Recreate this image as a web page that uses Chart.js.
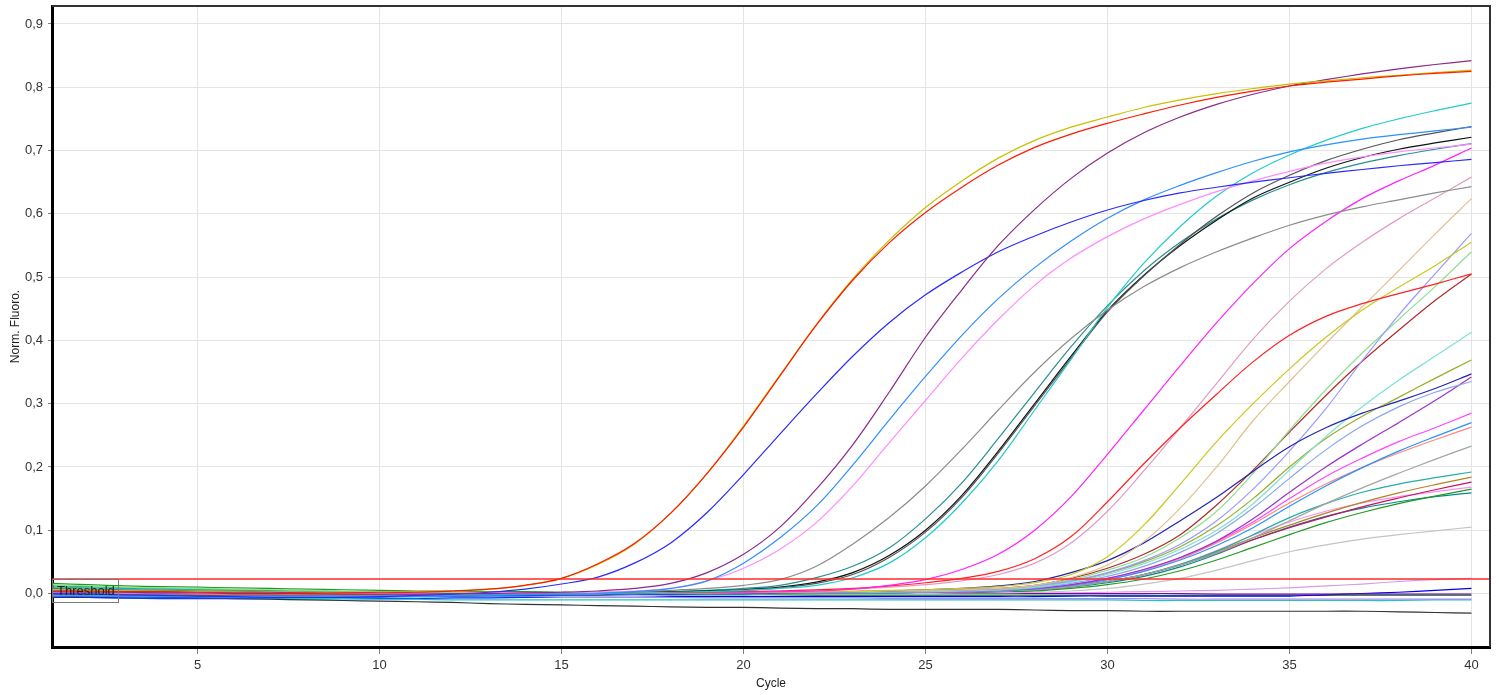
<!DOCTYPE html>
<html><head><meta charset="utf-8">
<script src="https://cdn.jsdelivr.net/npm/chart.js@4.4.0/dist/chart.umd.min.js"></script>
<style>html,body{margin:0;padding:0;background:#fff;overflow:hidden}#wrap{width:1499px;height:695px;position:relative}</style>
</head><body><div id="wrap"><canvas id="c" width="1499" height="695"></canvas></div>
<script>
const cycles=[1,2,3,4,5,6,7,8,9,10,11,12,13,14,15,16,17,18,19,20,21,22,23,24,25,26,27,28,29,30,31,32,33,34,35,36,37,38,39,40];
const xTickValues=[5,10,15,20,25,30,35,40];
const yTickValues=[0,0.1,0.2,0.3,0.4,0.5,0.6,0.7,0.8,0.9];
const thresholdValue=0.023;
const xTitle="Cycle";
const yTitle="Norm. Fluoro.";
const thresholdText="Threshold";

const yellowA=[0.006,0.005,0.004,0.004,0.003,0.003,0.002,0.002,0.002,0.002,0.003,0.004,0.007,0.013,0.024,0.046,0.078,0.127,0.19,0.265,0.345,0.425,0.497,0.558,0.61,0.652,0.688,0.716,0.737,0.753,0.768,0.78,0.79,0.798,0.805,0.81,0.815,0.819,0.823,0.827];
const redA=[0.004,0.004,0.003,0.003,0.002,0.002,0.002,0.001,0.001,0.002,0.002,0.004,0.007,0.013,0.024,0.047,0.079,0.127,0.19,0.263,0.344,0.424,0.495,0.554,0.602,0.642,0.677,0.705,0.726,0.743,0.758,0.772,0.784,0.794,0.802,0.808,0.813,0.818,0.822,0.825];
const blueA=[0.0,-0.001,-0.002,-0.003,-0.004,-0.005,-0.006,-0.006,-0.006,-0.005,-0.003,-0.001,0.002,0.007,0.015,0.026,0.048,0.08,0.128,0.188,0.252,0.315,0.375,0.428,0.472,0.508,0.54,0.565,0.587,0.606,0.621,0.633,0.642,0.65,0.657,0.664,0.67,0.676,0.681,0.686];
const purpleA=[0.003,0.002,0.002,0.001,0.001,0.0,0.0,0.0,-0.001,-0.001,-0.001,0.0,0.0,0.001,0.002,0.004,0.008,0.016,0.033,0.062,0.105,0.165,0.235,0.318,0.405,0.48,0.55,0.607,0.656,0.696,0.728,0.753,0.773,0.789,0.802,0.812,0.821,0.829,0.836,0.842];
const dodgerA=[-0.004,-0.004,-0.005,-0.005,-0.005,-0.006,-0.006,-0.006,-0.006,-0.005,-0.005,-0.004,-0.003,-0.002,-0.001,0.0,0.003,0.008,0.02,0.048,0.088,0.138,0.203,0.274,0.343,0.408,0.466,0.515,0.557,0.593,0.622,0.645,0.665,0.683,0.698,0.709,0.718,0.725,0.731,0.737];
const violetA=[0.002,0.002,0.001,0.001,0.0,0.0,0.0,0.0,0.0,0.0,0.0,0.0,0.001,0.001,0.002,0.002,0.004,0.008,0.02,0.04,0.07,0.112,0.17,0.238,0.305,0.372,0.433,0.487,0.53,0.564,0.592,0.615,0.635,0.652,0.667,0.68,0.69,0.698,0.704,0.71];
const grayA=[0.001,0.0,0.0,-0.001,-0.001,-0.002,-0.002,-0.002,-0.002,-0.002,-0.001,-0.001,0.0,0.0,0.001,0.002,0.003,0.005,0.008,0.013,0.022,0.043,0.078,0.12,0.17,0.228,0.29,0.35,0.403,0.448,0.485,0.515,0.54,0.562,0.582,0.598,0.611,0.622,0.633,0.643];
const tealA=[0.008,0.007,0.006,0.005,0.004,0.003,0.002,0.002,0.001,0.001,0.0,0.0,0.0,0.0,0.001,0.001,0.002,0.003,0.005,0.008,0.013,0.025,0.043,0.072,0.118,0.175,0.245,0.318,0.39,0.455,0.51,0.555,0.592,0.622,0.646,0.665,0.68,0.692,0.702,0.711];
const blackA=[0.002,0.002,0.001,0.001,0.0,0.0,-0.001,-0.001,-0.001,-0.001,-0.001,0.0,0.0,0.0,0.001,0.001,0.002,0.003,0.004,0.006,0.01,0.018,0.033,0.06,0.1,0.155,0.225,0.3,0.375,0.447,0.503,0.55,0.59,0.625,0.65,0.672,0.689,0.702,0.712,0.721];
const dgrayA=[0.0,0.0,-0.001,-0.001,-0.002,-0.002,-0.002,-0.002,-0.002,-0.002,-0.001,-0.001,0.0,0.0,0.0,0.001,0.001,0.002,0.003,0.005,0.009,0.016,0.03,0.057,0.097,0.152,0.222,0.297,0.372,0.445,0.502,0.552,0.596,0.633,0.661,0.684,0.702,0.717,0.728,0.738];
const cyanA=[-0.003,-0.003,-0.004,-0.004,-0.005,-0.005,-0.005,-0.005,-0.004,-0.004,-0.003,-0.002,-0.002,-0.001,0.0,0.0,0.001,0.002,0.003,0.005,0.008,0.013,0.025,0.048,0.088,0.143,0.21,0.29,0.37,0.452,0.522,0.58,0.628,0.665,0.693,0.716,0.735,0.75,0.763,0.775];
const magentaA=[0.001,0.001,0.0,0.0,-0.001,-0.001,-0.001,-0.001,-0.001,-0.001,0.0,0.0,0.0,0.0,0.0,0.001,0.001,0.001,0.002,0.002,0.003,0.004,0.007,0.013,0.022,0.038,0.062,0.1,0.153,0.22,0.29,0.36,0.428,0.49,0.545,0.588,0.624,0.652,0.677,0.704];
const redB=[-0.002,-0.002,-0.003,-0.003,-0.003,-0.003,-0.003,-0.002,-0.002,-0.002,-0.001,-0.001,0.0,0.0,0.0,0.001,0.001,0.002,0.002,0.003,0.004,0.006,0.008,0.012,0.017,0.024,0.035,0.055,0.09,0.145,0.205,0.262,0.315,0.366,0.408,0.438,0.458,0.474,0.489,0.505];
const pinkB=[0.0,0.0,0.0,-0.001,-0.001,-0.001,-0.001,-0.001,-0.001,0.0,0.0,0.0,0.0,0.001,0.001,0.001,0.001,0.002,0.002,0.003,0.004,0.005,0.007,0.01,0.014,0.02,0.03,0.048,0.08,0.13,0.194,0.262,0.332,0.402,0.462,0.513,0.555,0.592,0.625,0.658];
const yellowB=[0.004,0.003,0.003,0.002,0.002,0.001,0.001,0.0,0.0,0.0,0.0,0.0,0.0,0.0,0.0,0.0,0.001,0.001,0.001,0.002,0.002,0.003,0.004,0.005,0.006,0.008,0.011,0.017,0.03,0.058,0.108,0.173,0.24,0.3,0.355,0.405,0.448,0.484,0.518,0.555];
const tanB=[0.002,0.002,0.001,0.001,0.0,0.0,0.0,0.0,-0.001,-0.001,-0.001,-0.001,0.0,0.0,0.0,0.0,0.0,0.001,0.001,0.001,0.002,0.002,0.003,0.004,0.005,0.006,0.008,0.013,0.025,0.045,0.082,0.135,0.2,0.273,0.335,0.395,0.453,0.51,0.568,0.624];
const blueB=[-0.006,-0.006,-0.007,-0.007,-0.007,-0.007,-0.006,-0.006,-0.005,-0.005,-0.004,-0.004,-0.003,-0.003,-0.002,-0.002,-0.001,-0.001,0.0,0.0,0.001,0.002,0.003,0.004,0.006,0.008,0.012,0.019,0.033,0.052,0.08,0.115,0.152,0.193,0.232,0.262,0.285,0.304,0.324,0.347];
const lavenderC=[0.001,0.001,0.0,0.0,0.0,-0.001,-0.001,-0.001,-0.001,-0.001,0.0,0.0,0.0,0.0,0.0,0.0,0.001,0.001,0.001,0.001,0.002,0.002,0.003,0.003,0.004,0.005,0.007,0.012,0.02,0.033,0.052,0.078,0.115,0.165,0.225,0.292,0.368,0.44,0.505,0.569];
const lgreenC=[0.014,0.012,0.01,0.009,0.008,0.007,0.006,0.005,0.004,0.003,0.003,0.002,0.002,0.001,0.001,0.001,0.001,0.001,0.001,0.002,0.002,0.002,0.003,0.003,0.004,0.005,0.007,0.012,0.022,0.037,0.057,0.088,0.13,0.19,0.258,0.322,0.38,0.433,0.485,0.54];
const brickC=[-0.001,-0.001,-0.002,-0.002,-0.002,-0.002,-0.002,-0.002,-0.001,-0.001,-0.001,0.0,0.0,0.0,0.0,0.001,0.001,0.001,0.002,0.002,0.002,0.003,0.003,0.004,0.005,0.006,0.008,0.013,0.024,0.04,0.062,0.093,0.14,0.195,0.255,0.313,0.367,0.416,0.463,0.505];
const aquaC=[0.006,0.005,0.005,0.004,0.004,0.003,0.003,0.002,0.002,0.001,0.001,0.001,0.0,0.0,0.0,0.0,0.0,0.0,0.001,0.001,0.001,0.002,0.002,0.003,0.003,0.004,0.006,0.01,0.018,0.03,0.047,0.07,0.1,0.142,0.195,0.248,0.295,0.337,0.375,0.413];
const oliveC=[0.003,0.003,0.002,0.002,0.001,0.001,0.0,0.0,0.0,0.0,0.0,0.0,0.0,0.0,0.0,0.0,0.001,0.001,0.001,0.001,0.002,0.002,0.002,0.003,0.004,0.005,0.006,0.01,0.019,0.032,0.05,0.074,0.107,0.15,0.2,0.245,0.28,0.31,0.34,0.369];
const lblueC=[-0.003,-0.003,-0.004,-0.004,-0.004,-0.004,-0.004,-0.004,-0.003,-0.003,-0.003,-0.002,-0.002,-0.001,-0.001,0.0,0.0,0.0,0.0,0.001,0.001,0.001,0.002,0.002,0.003,0.004,0.005,0.009,0.016,0.027,0.043,0.065,0.095,0.135,0.182,0.227,0.265,0.295,0.318,0.335];
const orchidC=[0.005,0.004,0.004,0.003,0.003,0.002,0.002,0.001,0.001,0.001,0.0,0.0,0.0,0.0,0.0,0.0,0.0,0.0,0.0,0.001,0.001,0.001,0.002,0.002,0.003,0.003,0.005,0.008,0.014,0.024,0.038,0.057,0.083,0.118,0.16,0.2,0.236,0.27,0.305,0.342];
const magentaC=[0.002,0.002,0.001,0.001,0.001,0.0,0.0,0.0,0.0,0.0,0.0,0.0,0.0,0.0,0.0,0.0,0.0,0.001,0.001,0.001,0.001,0.002,0.002,0.002,0.003,0.004,0.005,0.008,0.014,0.024,0.038,0.057,0.082,0.113,0.15,0.185,0.214,0.24,0.262,0.285];
const dodgerC=[-0.006,-0.006,-0.007,-0.007,-0.007,-0.007,-0.007,-0.006,-0.006,-0.006,-0.005,-0.005,-0.004,-0.004,-0.003,-0.003,-0.002,-0.002,-0.001,-0.001,0.0,0.0,0.001,0.001,0.002,0.003,0.004,0.007,0.013,0.022,0.035,0.053,0.076,0.104,0.138,0.17,0.199,0.225,0.248,0.27];
const salmonC=[0.001,0.001,0.001,0.0,0.0,0.0,0.0,-0.001,-0.001,-0.001,-0.001,0.0,0.0,0.0,0.0,0.0,0.0,0.001,0.001,0.001,0.001,0.002,0.002,0.002,0.003,0.003,0.004,0.007,0.013,0.022,0.036,0.055,0.08,0.11,0.143,0.173,0.199,0.222,0.243,0.263];
const grayC=[0.004,0.004,0.003,0.003,0.002,0.002,0.001,0.001,0.001,0.0,0.0,0.0,0.0,0.0,0.0,0.0,0.0,0.0,0.0,0.001,0.001,0.001,0.001,0.002,0.002,0.003,0.004,0.006,0.011,0.019,0.03,0.045,0.064,0.088,0.115,0.142,0.167,0.19,0.212,0.233];
const tealC=[0.01,0.009,0.008,0.007,0.006,0.005,0.004,0.004,0.003,0.003,0.002,0.002,0.001,0.001,0.001,0.0,0.0,0.0,0.0,0.0,0.001,0.001,0.001,0.002,0.002,0.003,0.004,0.006,0.011,0.019,0.03,0.046,0.067,0.093,0.12,0.142,0.16,0.173,0.183,0.192];
const brownC=[0.006,0.006,0.005,0.005,0.004,0.004,0.003,0.003,0.002,0.002,0.002,0.001,0.001,0.001,0.001,0.0,0.0,0.0,0.0,0.001,0.001,0.001,0.001,0.002,0.002,0.003,0.004,0.006,0.011,0.019,0.03,0.045,0.066,0.088,0.108,0.127,0.144,0.159,0.172,0.184];
const crimsonC=[0.0,0.0,0.0,-0.001,-0.001,-0.001,-0.001,-0.001,-0.001,-0.001,-0.001,0.0,0.0,0.0,0.0,0.0,0.0,0.0,0.001,0.001,0.001,0.001,0.002,0.002,0.002,0.003,0.004,0.006,0.011,0.019,0.03,0.045,0.064,0.085,0.104,0.121,0.137,0.151,0.164,0.176];
const pinkC=[0.003,0.003,0.002,0.002,0.002,0.001,0.001,0.001,0.0,0.0,0.0,0.0,0.0,0.0,0.0,0.0,0.0,0.001,0.001,0.001,0.001,0.001,0.002,0.002,0.003,0.003,0.004,0.006,0.011,0.019,0.03,0.046,0.068,0.092,0.113,0.13,0.143,0.153,0.161,0.168];
const greenC=[0.016,0.014,0.012,0.011,0.01,0.009,0.008,0.007,0.006,0.005,0.004,0.004,0.003,0.003,0.002,0.002,0.001,0.001,0.001,0.001,0.001,0.001,0.001,0.001,0.002,0.002,0.003,0.004,0.008,0.014,0.023,0.036,0.053,0.073,0.093,0.112,0.128,0.142,0.154,0.165];
const dtealC=[0.002,0.002,0.001,0.001,0.0,0.0,-0.001,-0.001,-0.001,-0.001,-0.001,-0.001,0.0,0.0,0.0,0.0,0.0,0.0,0.0,0.0,0.001,0.001,0.001,0.001,0.002,0.002,0.003,0.005,0.01,0.017,0.027,0.042,0.062,0.085,0.105,0.122,0.135,0.145,0.153,0.159];
const lgrayC=[0.0,0.0,0.0,0.0,0.0,0.0,0.0,0.0,0.0,0.0,0.0,0.0,0.0,0.0,0.0,0.0,0.0,0.0,0.0,0.0,0.0,0.0,0.0,0.0,0.0,0.001,0.001,0.002,0.004,0.008,0.015,0.024,0.037,0.052,0.066,0.077,0.086,0.093,0.099,0.105];
const flatBlack=[-0.004,-0.005,-0.005,-0.006,-0.007,-0.008,-0.009,-0.01,-0.011,-0.012,-0.013,-0.014,-0.016,-0.017,-0.018,-0.019,-0.02,-0.021,-0.022,-0.022,-0.023,-0.024,-0.024,-0.025,-0.025,-0.025,-0.025,-0.026,-0.027,-0.027,-0.028,-0.028,-0.028,-0.028,-0.028,-0.028,-0.028,-0.029,-0.03,-0.031];
const flatPurple=[0.004,0.004,0.003,0.003,0.003,0.002,0.002,0.002,0.002,0.001,0.001,0.001,0.001,0.001,0.0,0.0,0.0,0.0,0.0,0.0,0.0,0.0,0.0,0.0,0.0,0.0,0.0,0.0,0.0,0.0,0.0,0.0,-0.001,-0.001,-0.001,-0.001,-0.001,-0.001,-0.001,-0.001];
const flatLav=[0.0,0.0,-0.001,-0.001,-0.002,-0.002,-0.003,-0.003,-0.004,-0.004,-0.004,-0.005,-0.005,-0.005,-0.006,-0.006,-0.006,-0.006,-0.007,-0.007,-0.007,-0.007,-0.007,-0.008,-0.008,-0.008,-0.008,-0.008,-0.008,-0.008,-0.008,-0.009,-0.009,-0.009,-0.009,-0.009,-0.009,-0.009,-0.009,-0.009];
const flatCyan=[-0.002,-0.003,-0.004,-0.005,-0.006,-0.006,-0.007,-0.008,-0.008,-0.009,-0.009,-0.01,-0.01,-0.01,-0.01,-0.01,-0.01,-0.01,-0.01,-0.01,-0.01,-0.01,-0.01,-0.01,-0.01,-0.01,-0.01,-0.01,-0.01,-0.01,-0.011,-0.011,-0.011,-0.011,-0.011,-0.011,-0.011,-0.011,-0.01,-0.01];
const flatBlue=[-0.004,-0.006,-0.007,-0.008,-0.008,-0.008,-0.008,-0.008,-0.008,-0.008,-0.008,-0.007,-0.007,-0.006,-0.006,-0.006,-0.006,-0.005,-0.005,-0.005,-0.005,-0.005,-0.005,-0.005,-0.005,-0.005,-0.005,-0.005,-0.004,-0.004,-0.004,-0.004,-0.004,-0.004,-0.004,-0.002,0.0,0.002,0.005,0.008];
const flatPlum=[0.002,0.002,0.001,0.001,0.001,0.0,0.0,0.0,0.0,0.0,0.0,0.0,0.0,0.0,0.0,0.0,0.0,0.0,0.0,0.0,0.0,0.0,0.0,0.0,0.0,0.0,0.0,0.001,0.001,0.002,0.003,0.004,0.005,0.007,0.009,0.012,0.015,0.019,0.022,0.024];
const flatGreen=[0.012,0.011,0.009,0.008,0.007,0.006,0.005,0.004,0.003,0.002,0.002,0.001,0.0,0.0,-0.001,-0.001,-0.001,-0.002,-0.002,-0.002,-0.002,-0.003,-0.003,-0.003,-0.003,-0.003,-0.003,-0.003,-0.003,-0.003,-0.003,-0.003,-0.003,-0.003,-0.003,-0.003,-0.003,-0.003,-0.003,-0.003];

const series=[
 [redA,'#ff1a00'],[yellowA,'#c8c000'],[purpleA,'#8a2a8a'],[blueA,'#2a2aff'],[dodgerA,'#2e8fff'],[violetA,'#ff8cff'],
 [grayA,'#8c8c8c'],[cyanA,'#22cccc'],[dgrayA,'#555555'],[blackA,'#111111'],[tealA,'#2a8f8f'],
 [magentaA,'#ff22ff'],[redB,'#ff2222'],[pinkB,'#e39bc6'],[yellowB,'#c8c820'],[tanB,'#e2c08e'],[blueB,'#2424b4'],
 [lavenderC,'#9a9aff'],[lgreenC,'#8fe08f'],[brickC,'#b22a2a'],[aquaC,'#7fe0d6'],[oliveC,'#9aae26'],[lblueC,'#88a8ec'],
 [orchidC,'#9a34c8'],[magentaC,'#ff44ff'],[dodgerC,'#2a92ff'],[salmonC,'#ff8a7a'],[grayC,'#a4a4a4'],[tealC,'#22b0a2'],
 [brownC,'#b08424'],[crimsonC,'#c81462'],[pinkC,'#ff8cf0'],[greenC,'#229a22'],[dtealC,'#008a8a'],[lgrayC,'#c4c4c4'],
 [flatBlack,'#333333'],[flatPurple,'#8a00a8'],[flatLav,'#a28ee6'],[flatCyan,'#20c4c4'],[flatBlue,'#0000ee'],[flatPlum,'#d99ae8'],[flatGreen,'#22a044']
];

const datasets=[{
  data:[{x:1,y:thresholdValue},{x:40.51,y:thresholdValue}],
  borderColor:'#ff2a2a',borderWidth:1.5,pointRadius:0,tension:0
}];
series.forEach(([arr,col])=>{
  datasets.push({
    data:arr.map((v,i)=>({x:cycles[i],y:v})),
    borderColor:col,borderWidth:1.2,pointRadius:0,tension:0.35
  });
});

const FONT="'Liberation Sans', Arial, sans-serif";
const framePlugin={
  id:'frame',
  afterDatasetsDraw(chart){
    const ctx=chart.ctx, a=chart.chartArea;
    const ys=chart.scales.y;
    const ty=ys.getPixelForValue(thresholdValue);
    ctx.save();
    ctx.strokeStyle='#7a7a7a';ctx.lineWidth=1;
    ctx.strokeRect(Math.round(a.left)+0.5,Math.round(ty)+0.5,66,23);
    ctx.fillStyle='#222';ctx.font='13px '+FONT;ctx.textBaseline='middle';ctx.textAlign='left';
    ctx.fillText(thresholdText,a.left+5,ty+12);
    ctx.restore();
  },
  afterDraw(chart){
    const ctx=chart.ctx, a=chart.chartArea;
    ctx.save();
    ctx.strokeStyle='#333';ctx.lineWidth=2;
    ctx.beginPath();ctx.moveTo(a.left,a.top);ctx.lineTo(a.right,a.top);ctx.lineTo(a.right,a.bottom);ctx.stroke();
    ctx.restore();
  }
};

new Chart(document.getElementById('c'),{
  type:'line',
  data:{datasets},
  options:{
    responsive:false,animation:false,events:[],devicePixelRatio:1,
    layout:{padding:{top:6,right:9,left:0,bottom:0}},
    plugins:{legend:{display:false},tooltip:{enabled:false}},
    scales:{
      x:{type:'linear',min:1,max:40.51,
        afterBuildTicks(s){s.ticks=xTickValues.map(v=>({value:v}));},
        afterFit(s){s.height=48;s.paddingLeft=0;s.paddingRight=0;},
        ticks:{font:{size:13,family:FONT},color:'#333',padding:4,maxRotation:0,autoSkip:false,callback:v=>String(v)},
        grid:{color:'#e4e4e4',lineWidth:1,tickColor:'#808080',tickLength:7},
        border:{display:true,color:'#000',width:3},
        title:{display:true,text:xTitle,font:{size:12,family:FONT},color:'#222',padding:{top:0,bottom:4}}
      },
      y:{type:'linear',min:-0.0845,max:0.9284,
        afterBuildTicks(s){s.ticks=yTickValues.map(v=>({value:v}));},
        afterFit(s){s.width=52;s.paddingTop=0;s.paddingBottom=0;},
        ticks:{font:{size:13,family:FONT},color:'#333',padding:5,autoSkip:false,callback:v=>Number(v).toFixed(1).replace('.',',')},
        grid:{color:'#e4e4e4',lineWidth:1,tickColor:'#808080',tickLength:4},
        border:{display:true,color:'#000',width:3},
        title:{display:true,text:yTitle,font:{size:12,family:FONT},color:'#222',padding:{top:8,bottom:0}}
      }
    }
  },
  plugins:[framePlugin]
});
</script></body></html>
